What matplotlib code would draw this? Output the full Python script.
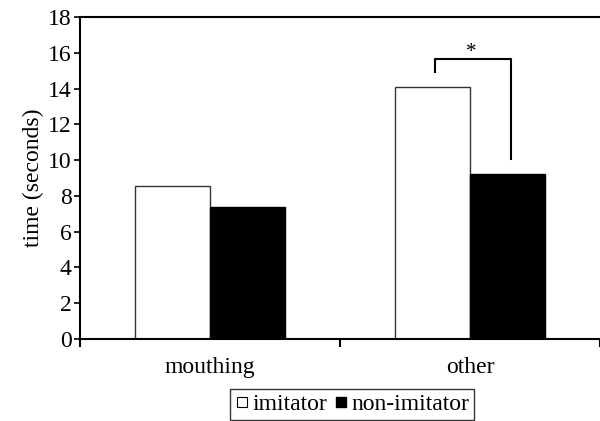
import matplotlib.pyplot as plt
import numpy as np
from matplotlib.lines import Line2D

categories = ['mouthing', 'other']
imitator = [8.58, 14.12]
non_imitator = [7.37, 9.25]
yticks = [0, 2, 4, 6, 8, 10, 12, 14, 16, 18]

plt.rcParams['font.family'] = ['Liberation Serif', 'DejaVu Serif']

fig = plt.figure(figsize=(6, 4.21), dpi=100)
ax = fig.add_axes([0.1333, 0.195, 0.8667, 0.764])

x = np.arange(len(categories))
w = 0.287
ax.bar(x - w / 2, imitator, w, color='white', edgecolor='#333333', linewidth=1.0)
ax.bar(x + w / 2, non_imitator, w, color='black', edgecolor='black', linewidth=1.0)

# significance bracket
ax.plot([0.865, 0.865, 1.156, 1.156], [14.96, 15.65, 15.65, 10.06],
        color='black', linewidth=1.5, clip_on=False)
ax.text(1.005, 16.05, '*', ha='center', va='center', fontsize=15)

ax.set_xlim(-0.5, 1.5)
ax.set_ylim(0, 18)
ax.set_yticks(yticks)
ax.set_xticks(x)
ax.set_xticklabels(categories)
ax.set_xticks([-0.5, 0.5, 1.5], minor=True)
ax.tick_params(axis='x', which='major', length=0, pad=13, labelsize=17)
ax.tick_params(axis='x', which='minor', length=6, width=1.5, direction='out')
ax.tick_params(axis='y', length=4, width=1.2, direction='out', labelsize=17, pad=2)
ax.set_ylabel('time (seconds)', fontsize=17, labelpad=3)

ax.spines['right'].set_visible(False)
for s in ['top', 'left', 'bottom']:
    ax.spines[s].set_linewidth(1.5)
    ax.spines[s].set_color('black')

handles = [
    Line2D([], [], marker='s', linestyle='none', markersize=7,
           markerfacecolor='white', markeredgecolor='black', markeredgewidth=0.8),
    Line2D([], [], marker='s', linestyle='none', markersize=7,
           markerfacecolor='black', markeredgecolor='black'),
]
fig.legend(handles, ['imitator', 'non-imitator'], loc='center',
           bbox_to_anchor=(0.587, 0.04), ncol=2, frameon=True, fancybox=False,
           edgecolor='black', fontsize=17, handlelength=0.6, handletextpad=0.15,
           columnspacing=0.3, borderpad=0.2, borderaxespad=0)
fig.legends[0].get_frame().set_linewidth(1.0)

fig.savefig('out.png', dpi=100)
